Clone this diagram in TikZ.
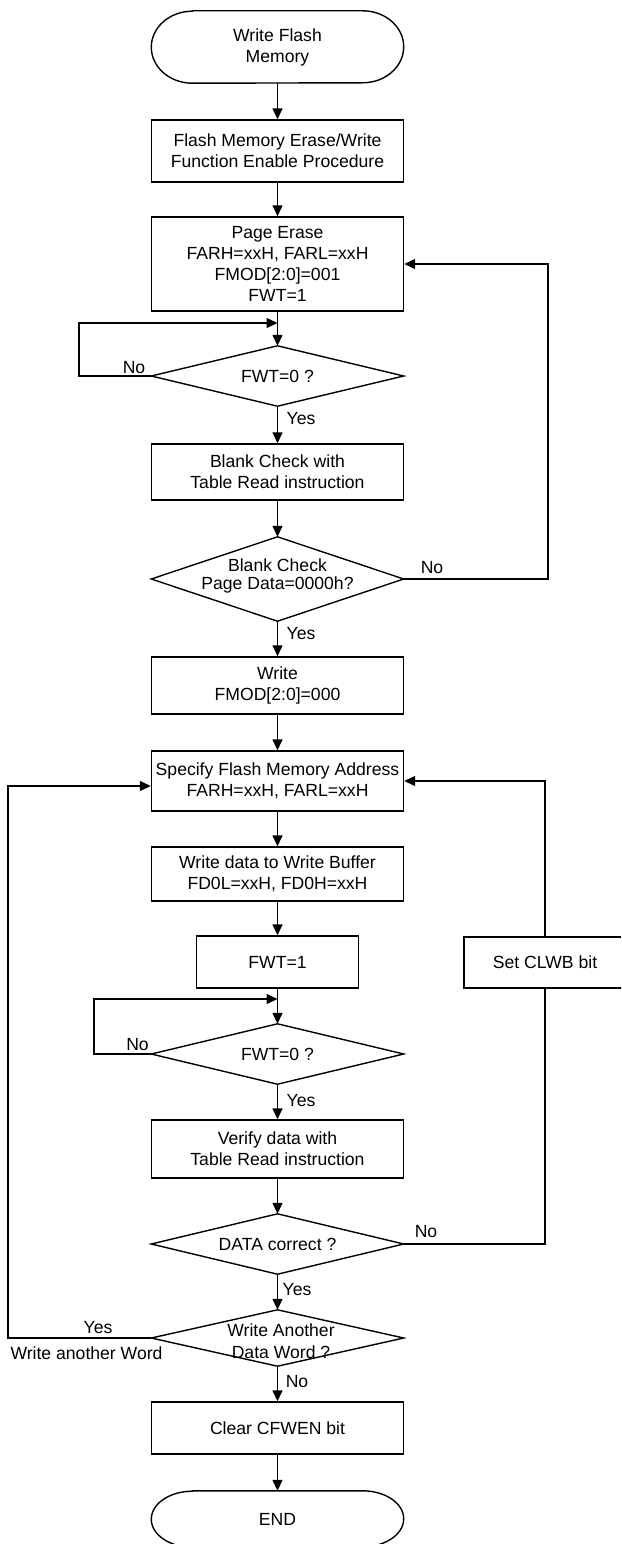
\documentclass[tikz,border=0pt]{standalone}
\usepackage{fontspec}
\setmainfont{Liberation Sans}
\usetikzlibrary{arrows.meta,calc}
\newcommand\dmnd[1]{\draw[ln] (#1.north) -- (#1.east) -- (#1.south) -- (#1.west) -- cycle;}
\newcommand\termoutline[3]{\draw[ln] ([xshift=#2]#1.north west) -- ([xshift=-#2]#1.north east) arc[start angle=90,end angle=-90,x radius=#2,y radius=#3] -- ([xshift=#2]#1.south west) arc[start angle=270,end angle=90,x radius=#2,y radius=#3] -- cycle;}
\begin{document}
\begin{tikzpicture}[x=1pt,y=-1pt,
  every node/.style={font=\fontsize{17.6}{21}\selectfont, inner sep=0pt, align=center, text=black},
  ln/.style={line width=1.4pt, line join=miter},
  proc/.style={draw, line width=1.4pt, minimum width=252pt},
  sproc/.style={draw, line width=1.4pt, minimum width=162pt},
  decis/.style={minimum width=252pt},
  term/.style={minimum width=252pt},
  lbl/.style={text depth=0pt},
  arr/.style={-{Triangle[length=11pt,width=10pt]}, line width=1.4pt}]
\useasboundingbox (0,0) rectangle (621,1544);
\clip (0,0) rectangle (621,1544);

% terminals
\node[term, minimum height=72pt] (start) at (277.5,47) {Write Flash\\Memory};
\termoutline{start}{41pt}{36pt}
\node[term, minimum height=56pt] (end) at (277.5,1519) {END};
\termoutline{end}{41pt}{28pt}

% process boxes
\node[proc, minimum height=62pt] (fe) at (277.5,151) {Flash Memory Erase/Write\\Function Enable Procedure};
\node[proc, minimum height=94pt] (pe) at (277.5,264) {Page Erase\\FARH=xxH, FARL=xxH\hspace*{26pt}\\FMOD[2:0]=001\\FWT=1};
\node[proc, minimum height=56pt] (bc) at (277.5,472) {Blank Check with\\Table Read instruction};
\node[proc, minimum height=57pt] (wr) at (277.5,685.5) {Write\\FMOD[2:0]=000};
\node[proc, minimum height=60pt] (sa) at (277.5,781) {Specify Flash Memory Address\\FARH=xxH, FARL=xxH};
\node[proc, minimum height=54pt] (wb) at (277.5,874) {Write data to Write Buffer\\FD0L=xxH, FD0H=xxH};
\node[sproc, minimum height=52pt] (fw) at (277.5,962) {FWT=1};
\node[sproc, minimum height=51pt] (clwb) at (545,962.5) {Set CLWB bit};
\node[proc, minimum height=58pt] (vd) at (277.5,1149) {Verify data with\\Table Read instruction};
\node[proc, minimum height=52pt] (cc) at (277.5,1428) {Clear CFWEN bit};

% decisions
\node[decis, minimum height=60pt] (d1) at (277.5,376) {FWT=0 ?};
\dmnd{d1}
\node[decis, minimum height=84pt] (d2) at (277.5,579) {};
\dmnd{d2}
\node[font=\fontsize{17.6}{18}\selectfont] (d2t) at (277.5,576) {Blank Check\\Page Data=0000h?};
\node[decis, minimum height=60pt] (d3) at (277.5,1054) {FWT=0 ?};
\dmnd{d3}
\node[decis, minimum height=60pt] (d4) at (277.5,1244) {DATA correct ?};
\dmnd{d4}
\node[decis, minimum height=56pt] (d5) at (277.5,1338) {};
\dmnd{d5}
\node[font=\fontsize{17.6}{22}\selectfont] (d5t) at (281,1341) {Write Another\\Data Word ?};

% coordinates for loops
\coordinate (l1) at (79,323);
\coordinate (r1) at (548,579);
\coordinate (l2) at (94,999);
\coordinate (r2) at (545,1244);
\coordinate (l3) at (8,786);

% connectors
\draw[arr] (start) -- (fe);
\draw[arr] (fe) -- (pe);
\draw[arr] (pe) -- (d1);
\draw[arr] (d1.west) -| (l1) -- (l1 -| d1.center);
\draw[arr] (d1) -- (bc);
\draw[arr] (bc) -- (d2);
\draw[arr] (d2.east) -- (r1) |- (pe.east);
\draw[arr] (d2) -- (wr);
\draw[arr] (wr) -- (sa);
\draw[arr] (sa) -- (wb);
\draw[arr] (wb) -- (fw);
\draw[arr] (fw) -- (d3);
\draw[arr] (d3.west) -| (l2) -- (l2 -| d3.center);
\draw[arr] (d3) -- (vd);
\draw[arr] (vd) -- (d4);
\draw[ln] (d4.east) -- (r2) -- (clwb.south);
\draw[arr] (clwb.north) |- (sa.east);
\draw[arr] (d4) -- (d5);
\draw[arr] (d5.west) -| (l3) -- (l3 -| sa.west);
\draw[arr] (d5) -- (cc);
\draw[arr] (cc) -- (end);

% labels
\node[lbl] (n1) at (134,367) {No};
\node[lbl] (y1) at (301,418) {Yes};
\node[lbl] (n2) at (432,567) {No};
\node[lbl] (y2) at (301,633) {Yes};
\node[lbl] (n3) at (137.5,1044) {No};
\node[lbl] (y3) at (301,1100) {Yes};
\node[lbl] (n4) at (426,1231) {No};
\node[lbl] (y4) at (297,1289) {Yes};
\node[lbl] (y5) at (98,1327) {Yes};
\node[lbl] (w5) at (86.5,1353) {Write another Word};
\node[lbl] (n5) at (297,1381) {No};
\end{tikzpicture}
\end{document}
